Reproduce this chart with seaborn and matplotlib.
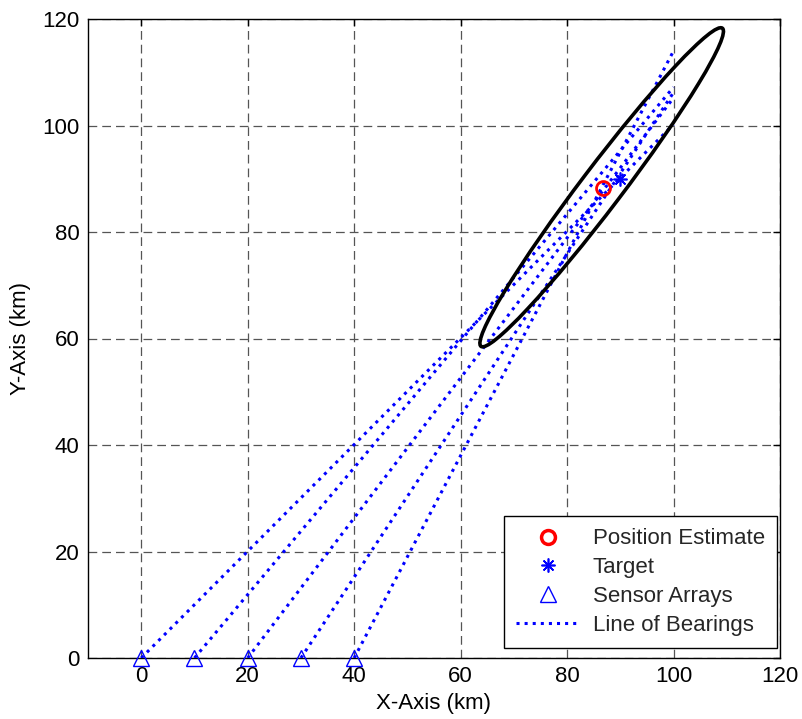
import numpy as np
import matplotlib
matplotlib.use("Agg")
import matplotlib.pyplot as plt
from matplotlib.patches import Ellipse
from matplotlib.lines import Line2D
import pandas as pd
import seaborn as sns

# sensor array positions (km)
sensor_x = [0, 10, 20, 30, 40]
sensor_y = [0, 0, 0, 0, 0]

# lines of bearing: each runs from its sensor to x = 100 km
bearing_end_x = [100, 100, 100, 100, 100]
bearing_end_y = [100.2, 107.2, 105.2, 106.2, 114.0]

target = (90.0, 90.0)
estimate = (86.7, 88.3)

# error ellipse around the estimate
ell_center = (86.5, 88.4)
ell_major = 75.0   # full length
ell_minor = 7.7    # full width
ell_angle = 52.8   # degrees

rows = []
for i in range(len(sensor_x)):
    rows.append({"x": sensor_x[i], "y": sensor_y[i], "sensor": i})
    rows.append({"x": bearing_end_x[i], "y": bearing_end_y[i], "sensor": i})
bearings = pd.DataFrame(rows)

sns.set_theme(style="white")
plt.rcParams["font.family"] = ["Liberation Sans", "DejaVu Sans"]

fig = plt.figure(figsize=(8.03, 7.19), dpi=100)
ax = fig.add_axes([88 / 803, 1 - 658 / 719, 692 / 803, 639 / 719])

sns.lineplot(data=bearings, x="x", y="y", units="sensor", estimator=None, sort=False,
             color="blue", linestyle=":", linewidth=2.2, ax=ax, legend=False, zorder=3)

ax.add_patch(Ellipse(ell_center, width=ell_major, height=ell_minor, angle=ell_angle,
                     fill=False, edgecolor="black", linewidth=2.6, zorder=4))

ax.plot(sensor_x, sensor_y, linestyle="none", marker="^", markersize=11,
        markerfacecolor="none", markeredgecolor="blue", markeredgewidth=1, zorder=5, clip_on=False)
ax.plot([target[0]], [target[1]], linestyle="none", marker=(8, 2, 0), markersize=10,
        color="blue", markeredgewidth=1.2, zorder=5)
ax.plot([estimate[0]], [estimate[1]], linestyle="none", marker="o", markersize=10,
        markerfacecolor="none", markeredgecolor="red", markeredgewidth=2, zorder=6)

ax.set_xlim(-10, 120)
ax.set_ylim(0, 120)
ax.set_xticks([0, 20, 40, 60, 80, 100, 120])
ax.set_yticks([0, 20, 40, 60, 80, 100, 120])
ax.grid(True, color="#555555", linestyle=(0, (7, 4)), linewidth=0.9)
ax.set_axisbelow(True)
for s in ax.spines.values():
    s.set_color("black")
    s.set_linewidth(1)
ax.tick_params(direction="in", length=5, width=1, color="black", top=True, right=True,
               labelsize=16, pad=6, labelcolor="black")
ax.set_xlabel("X-Axis (km)", fontsize=16, color="black", labelpad=4)
ax.set_ylabel("Y-Axis (km)", fontsize=16, color="black", labelpad=8)

handles = [
    Line2D([], [], linestyle="none", marker="o", markersize=10, markerfacecolor="none",
           markeredgecolor="red", markeredgewidth=2.5),
    Line2D([], [], linestyle="none", marker=(8, 2, 0), markersize=10, color="blue",
           markeredgewidth=1.2),
    Line2D([], [], linestyle="none", marker="^", markersize=11, markerfacecolor="none",
           markeredgecolor="blue", markeredgewidth=1),
    Line2D([], [], color="blue", linestyle=":", linewidth=2.2),
]
labels = ["Position Estimate", "Target", "Sensor Arrays", "Line of Bearings"]
leg = ax.legend(handles, labels, loc="lower right", bbox_to_anchor=(0.9957, 0.0156),
                fontsize=16, frameon=True, fancybox=False, framealpha=1, edgecolor="black",
                handlelength=2.9, labelspacing=0.35, borderaxespad=0, borderpad=0.55,
                handletextpad=0.55)
leg.get_frame().set_linewidth(1)

fig.savefig("out.png", dpi=100)
